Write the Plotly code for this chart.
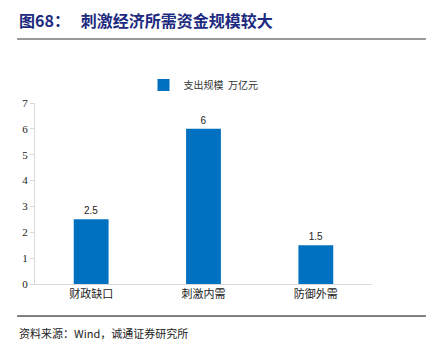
import plotly.graph_objects as go

categories = ["财政缺口", "刺激内需", "防御外需"]
values = [2.5, 6, 1.5]
value_labels = ["2.5", "6", "1.5"]
series_name = "支出规模  万亿元"
y_ticks = [0, 1, 2, 3, 4, 5, 6, 7]

fig = go.Figure()
fig.add_trace(go.Bar(
    x=categories, y=values, name=series_name,
    marker=dict(color="#0070C0", line=dict(width=0)),
    width=0.31,
    text=value_labels, textposition="outside",
    textfont=dict(family="Liberation Sans, Arial", size=10, color="#222"),
    cliponaxis=False,
    showlegend=True,
))

fig.update_layout(
    width=440, height=355,
    margin=dict(l=27, r=76, t=95, b=79, autoexpand=False),
    paper_bgcolor="white", plot_bgcolor="white",
    bargap=0.69,
    showlegend=True,
    legend=dict(orientation="h", x=0.5, xanchor="center", y=1.02, yanchor="bottom",
                font=dict(family="Noto Sans CJK SC", size=10, color="#333"),
                itemwidth=30),
    xaxis=dict(showline=True, linecolor="#d9d9d9", linewidth=1, ticks="",
               tickfont=dict(family="Noto Sans CJK SC", size=11, color="#222")),
    yaxis=dict(range=[0, 7], tickvals=y_ticks, showgrid=False, zeroline=False,
               showline=True, linecolor="#d9d9d9", linewidth=1,
               ticks="outside", ticklen=4, tickcolor="#d9d9d9",
               tickfont=dict(family="Liberation Serif", size=11, color="#222")),
    shapes=[
        dict(type="line", xref="paper", yref="paper", x0=-0.053, x1=1.16,
             y0=1.354, y1=1.354, line=dict(color="#999999", width=2)),
        dict(type="line", xref="paper", yref="paper", x0=-0.053, x1=1.16,
             y0=-0.177, y1=-0.177, line=dict(color="#000000", width=1)),
    ],
    annotations=[
        dict(text="<b>图68：   刺激经济所需资金规模较大</b>", xref="paper", yref="paper",
             x=-0.053, y=1.38, xanchor="left", yanchor="bottom", showarrow=False,
             font=dict(family="Noto Sans CJK SC", size=16, color="#1c2a80")),
        dict(text="资料来源：Wind，诚通证券研究所", xref="paper", yref="paper",
             x=-0.053, y=-0.215, xanchor="left", yanchor="top", showarrow=False,
             font=dict(family="Noto Sans CJK SC", size=11, color="#222")),
    ],
)

fig.write_html("out.html")
